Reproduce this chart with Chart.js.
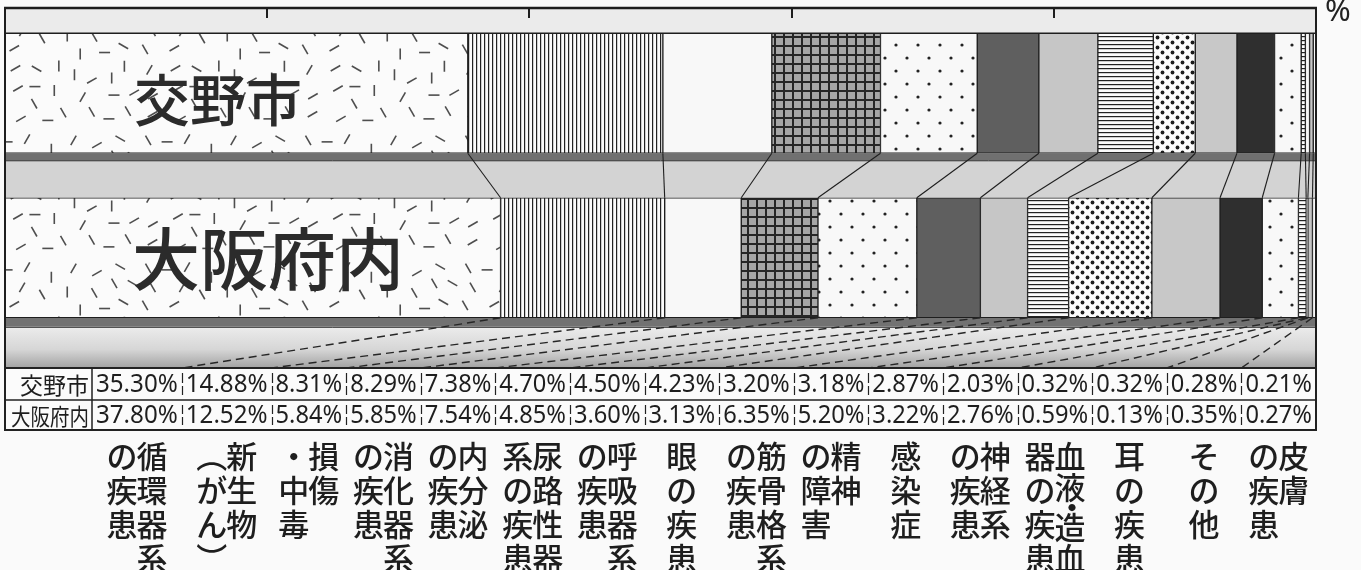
<!DOCTYPE html>
<html><head><meta charset="utf-8">
<script src="https://cdn.jsdelivr.net/npm/chart.js@4"></script>
<style>html,body{margin:0;padding:0;background:#fafafa;}#wrap{width:1361px;height:570px;position:relative;}canvas{display:block;}</style>
</head><body><div id="wrap"><canvas id="c" width="1361" height="570"></canvas></div>
<script>
// ---------- data ----------
const groups = ['交野市', '大阪府内'];
const categories = ['循環器系\nの疾患','新生物\n（がん）','損傷\n・中毒','消化器系\nの疾患','内分泌\nの疾患','尿路性器\n系の疾患','呼吸器系\nの疾患','眼の疾患','筋骨格系\nの疾患','精神\nの障害','感染症','神経系\nの疾患','血液・造血\n器の疾患','耳の疾患','その他','皮膚\nの疾患'];
const katanoValues = [35.30,14.88,8.31,8.29,7.38,4.70,4.50,4.23,3.20,3.18,2.87,2.03,0.32,0.32,0.28,0.21];
const osakaValues  = [37.80,12.52,5.84,5.85,7.54,4.85,3.60,3.13,6.35,5.20,3.22,2.76,0.59,0.13,0.35,0.27];
const xTicks = [20, 40, 60, 80];
const unitLabel = '%';
const fmt = v => v.toFixed(2) + '%';

// ---------- patterns (style) ----------
const canvas = document.getElementById('c');
const ctx = canvas.getContext('2d');
function tile(w, h, fn){const c=document.createElement('canvas');c.width=w;c.height=h;const g=c.getContext('2d');fn(g,w,h);return ctx.createPattern(c,'repeat');}
function rng(s){return function(){s=(s*1664525+1013904223)>>>0;return s/4294967296;};}
const dashPat = tile(160,128,(g,w,h)=>{g.fillStyle='#fbfbfb';g.fillRect(0,0,w,h);const r=rng(11);g.strokeStyle='#4e4e4e';g.lineWidth=1.6;
  const angs=[0,0.52,1.05,1.57,2.09,2.62]; const pts=[];
  for(let t=0;t<3000 && pts.length<44;t++){
    const cx=7+r()*(w-14),cy=7+r()*(h-14);
    if(pts.some(p=>Math.hypot(p[0]-cx,p[1]-cy)<17)) continue;
    pts.push([cx,cy]);
    const a=angs[Math.floor(r()*6)],L=5.5;
    g.beginPath();g.moveTo(cx-Math.cos(a)*L,cy-Math.sin(a)*L);g.lineTo(cx+Math.cos(a)*L,cy+Math.sin(a)*L);g.stroke();}});
const vlines = tile(4,4,(g)=>{g.fillStyle='#fbfbfb';g.fillRect(0,0,4,4);g.fillStyle='#222';g.fillRect(0,0,1.2,4);});
const hlines = tile(4,4,(g)=>{g.fillStyle='#fbfbfb';g.fillRect(0,0,4,4);g.fillStyle='#222';g.fillRect(0,0,4,1.2);});
const grid = tile(9,9,(g)=>{g.fillStyle='#a6a6a6';g.fillRect(0,0,9,9);g.fillStyle='#262626';g.fillRect(0,0,2,9);g.fillRect(0,0,9,2);});
const sparseDots = tile(22,26,(g)=>{g.fillStyle='#f8f8f8';g.fillRect(0,0,22,26);g.fillStyle='#222';[[5,6],[16,19]].forEach(p=>{g.beginPath();g.arc(p[0],p[1],1.6,0,7);g.fill();});});
const denseDots = tile(10,10,(g)=>{g.fillStyle='#fbfbfb';g.fillRect(0,0,10,10);g.fillStyle='#1c1c1c';[[2.5,2.5],[7.5,7.5]].forEach(p=>{g.beginPath();g.arc(p[0],p[1],1.9,0,7);g.fill();});});
const fills = [dashPat, vlines, '#f8f8f8', grid, sparseDots, '#5f5f5f', '#c6c6c6', hlines, denseDots, '#c8c8c8', '#2f2f2f', sparseDots, hlines, '#f8f8f8', '#c6c6c6', '#f8f8f8'];

// ---------- layout (style) ----------
const L = {bandTop:8, tableTop:368, rowMid:400, tableBot:430, headerRight:92, labelRow0:456, labelPitch:34, labelCol:30};
const CJK = '"Noto Sans CJK JP", "Noto Sans CJK SC", sans-serif';

const deco = {
  id:'deco',
  beforeDatasetsDraw(chart){
    const {ctx, chartArea:{left,right}} = chart;
    const b = chart.getDatasetMeta(0).data;
    const b1Top = b[0].y - b[0].height/2, b1Bot = b[0].y + b[0].height/2;
    const b2Top = b[1].y - b[1].height/2, b2Bot = b[1].y + b[1].height/2;
    const w = right-left;
    ctx.save();
    ctx.fillStyle='#ebebeb'; ctx.fillRect(left, L.bandTop, w, b1Top-L.bandTop);
    ctx.fillStyle='#707070'; ctx.fillRect(left, b1Bot, w, 7);
    ctx.fillStyle='#d3d3d3'; ctx.fillRect(left, b1Bot+7, w, b2Top-b1Bot-7);
    ctx.strokeStyle='#222'; ctx.lineWidth=1; ctx.beginPath(); ctx.moveTo(left,b1Bot+7.5); ctx.lineTo(right,b1Bot+7.5); ctx.stroke();
    ctx.fillStyle='#727272'; ctx.fillRect(left, b2Bot, w, 9);
    const gr = ctx.createLinearGradient(0, b2Bot+9, 0, L.tableTop);
    gr.addColorStop(0,'#ececec'); gr.addColorStop(0.55,'#d6d6d6'); gr.addColorStop(1,'#a2a2a2');
    ctx.fillStyle=gr; ctx.fillRect(left, b2Bot+9, w, L.tableTop-b2Bot-9);
    ctx.beginPath(); ctx.moveTo(left,b2Bot+9.5); ctx.lineTo(right,b2Bot+9.5); ctx.stroke();
    ctx.restore();
  },
  afterDatasetsDraw(chart){
    const {ctx, chartArea:{left,right}, scales:{x}} = chart;
    const b = chart.getDatasetMeta(0).data;
    const b1Top = b[0].y - b[0].height/2, b1Bot = b[0].y + b[0].height/2;
    const b2Top = b[1].y - b[1].height/2, b2Bot = b[1].y + b[1].height/2;
    ctx.save();
    ctx.strokeStyle='#1e1e1e'; ctx.lineWidth=2.5;
    ctx.beginPath(); ctx.moveTo(left-1, L.bandTop); ctx.lineTo(right+1, L.bandTop); ctx.stroke();
    ctx.lineWidth=2;
    xTicks.forEach(t=>{const px=Math.round(x.getPixelForValue(t));ctx.beginPath();ctx.moveTo(px,L.bandTop);ctx.lineTo(px,L.bandTop+10);ctx.stroke();});
    ctx.lineWidth=1.5;
    ctx.beginPath(); ctx.moveTo(left,b1Top); ctx.lineTo(right,b1Top); ctx.stroke();
    ctx.lineWidth=2;
    ctx.beginPath(); ctx.moveTo(left, L.bandTop); ctx.lineTo(left, L.tableBot); ctx.moveTo(right, L.bandTop); ctx.lineTo(right, L.tableBot); ctx.stroke();

    // table columns
    const numFont = '26px "Noto Sans", "Liberation Sans", sans-serif';
    ctx.font = numFont;
    const meas = katanoValues.map((v,i)=>Math.max(ctx.measureText(fmt(v)).width, ctx.measureText(fmt(osakaValues[i])).width));
    const tot = meas.reduce((a,c)=>a+c,0);
    const span = right - L.headerRight;
    const seps = [L.headerRight]; let acc = L.headerRight;
    meas.forEach(m=>{acc += span*m/tot; seps.push(acc);});

    // connectors between bars
    ctx.strokeStyle='#1e1e1e'; ctx.lineWidth=1.1;
    for(let i=0;i<categories.length-1;i++){
      const e = chart.getDatasetMeta(i).data;
      ctx.beginPath(); ctx.moveTo(e[0].x, b1Bot); ctx.lineTo(e[1].x, b2Top); ctx.stroke();
    }
    // dashed connectors to table
    ctx.setLineDash([8,5]); ctx.lineWidth=1.4; ctx.strokeStyle='#262626';
    for(let i=0;i<categories.length-1;i++){
      const e = chart.getDatasetMeta(i).data;
      ctx.beginPath(); ctx.moveTo(e[1].x, b2Bot); ctx.lineTo(seps[i+1], L.tableTop); ctx.stroke();
    }
    ctx.setLineDash([]);

    // big group labels
    ctx.fillStyle='#2b2b2b'; ctx.textAlign='center'; ctx.textBaseline='middle';
    ctx.font = '500 56px ' + CJK; ctx.fillText(groups[0], 218, b[0].y + 6);
    ctx.font = '500 68px ' + CJK; ctx.fillText(groups[1], 268, b[1].y + 1);

    // table
    ctx.fillStyle='#fbfbfb'; ctx.fillRect(left, L.tableTop, right-left, L.tableBot-L.tableTop);
    ctx.strokeStyle='#222'; ctx.lineWidth=2; ctx.strokeRect(left, L.tableTop, right-left, L.tableBot-L.tableTop);
    ctx.lineWidth=1.5;
    ctx.beginPath(); ctx.moveTo(left, L.rowMid); ctx.lineTo(right, L.rowMid); ctx.moveTo(L.headerRight, L.tableTop); ctx.lineTo(L.headerRight, L.tableBot); ctx.stroke();
    ctx.lineWidth=1.2;
    for(let i=1;i<seps.length-1;i++){
      const sx = Math.round(seps[i])+0.5;
      [[L.tableTop, L.rowMid],[L.rowMid, L.tableBot]].forEach(([t,bt])=>{
        const m=(t+bt)/2;
        ctx.beginPath(); ctx.moveTo(sx,t+5); ctx.lineTo(sx,m-1); ctx.moveTo(sx,m+2); ctx.lineTo(sx,bt-5); ctx.stroke();
      });
    }
    ctx.fillStyle='#1e1e1e'; ctx.textBaseline='middle';
    const rowsY = [(L.tableTop+L.rowMid)/2+1, (L.rowMid+L.tableBot)/2+1];
    ctx.font = '23px ' + CJK; ctx.textAlign='right';
    groups.forEach((g,r)=>{const wd=ctx.measureText(g).width, maxW=L.headerRight-left-9, s=Math.min(1,maxW/wd);
      ctx.save(); ctx.translate(L.headerRight-3, rowsY[r]); ctx.scale(s,1); ctx.fillText(g,0,0); ctx.restore();});
    ctx.font = numFont; ctx.textAlign='center';
    [katanoValues, osakaValues].forEach((arr,r)=>{
      arr.forEach((v,i)=>{const cx=(seps[i]+seps[i+1])/2, cw=seps[i+1]-seps[i]; const t=fmt(v); const wd=ctx.measureText(t).width; const s=Math.min(1,(cw-8)/wd);
        ctx.save(); ctx.translate(cx, rowsY[r]); ctx.scale(s,1); ctx.fillText(t,0,0); ctx.restore();});
    });

    // vertical category labels (columns right-to-left)
    ctx.font = '500 31px ' + CJK; ctx.textAlign='center'; ctx.fillStyle='#1e1e1e';
    categories.forEach((c,i)=>{
      const cx=(seps[i]+seps[i+1])/2;
      const cols = c.split('\n');
      const n = cols.length;
      cols.forEach((col,k)=>{
        const colX = cx + (n-1)*L.labelCol/2 - k*L.labelCol;
        const chars = Array.from(col.replace(/（/g,'︵').replace(/）/g,'︶'));
        const long = chars.length>4;
        const gaps = [];
        for(let j=1;j<chars.length;j++) gaps.push(long && (chars[j]==='・'||chars[j-1]==='・') ? 0.65 : 1);
        const unit = long ? (3*L.labelPitch)/gaps.reduce((a,g)=>a+g,0) : L.labelPitch;
        let y = L.labelRow0;
        chars.forEach((ch,j)=>{
          if(j>0) y += gaps[j-1]*unit;
          ctx.fillText(ch, colX + (long && ch==='・' ? 2 : 0), y);
        });
      });
    });

    ctx.font = '31px "Noto Sans", sans-serif'; ctx.textAlign='center'; ctx.fillStyle='#222';
    ctx.fillText(unitLabel, right+22, 12);
    ctx.restore();
  }
};

new Chart(ctx, {
  type:'bar',
  data:{
    labels: groups,
    datasets: categories.map((c,i)=>({label:c, data:[katanoValues[i], osakaValues[i]], backgroundColor:fills[i], borderColor:'#1e1e1e', borderWidth:1, borderSkipped:false, barThickness:120}))
  },
  options:{
    indexAxis:'y', responsive:false, animation:false, devicePixelRatio:1,
    layout:{padding:{left:5, right:45, top:11, bottom:230}},
    plugins:{legend:{display:false}, tooltip:{enabled:false}},
    scales:{x:{stacked:true, min:0, max:100, display:false}, y:{stacked:true, display:false}}
  },
  plugins:[deco]
});
</script></body></html>
